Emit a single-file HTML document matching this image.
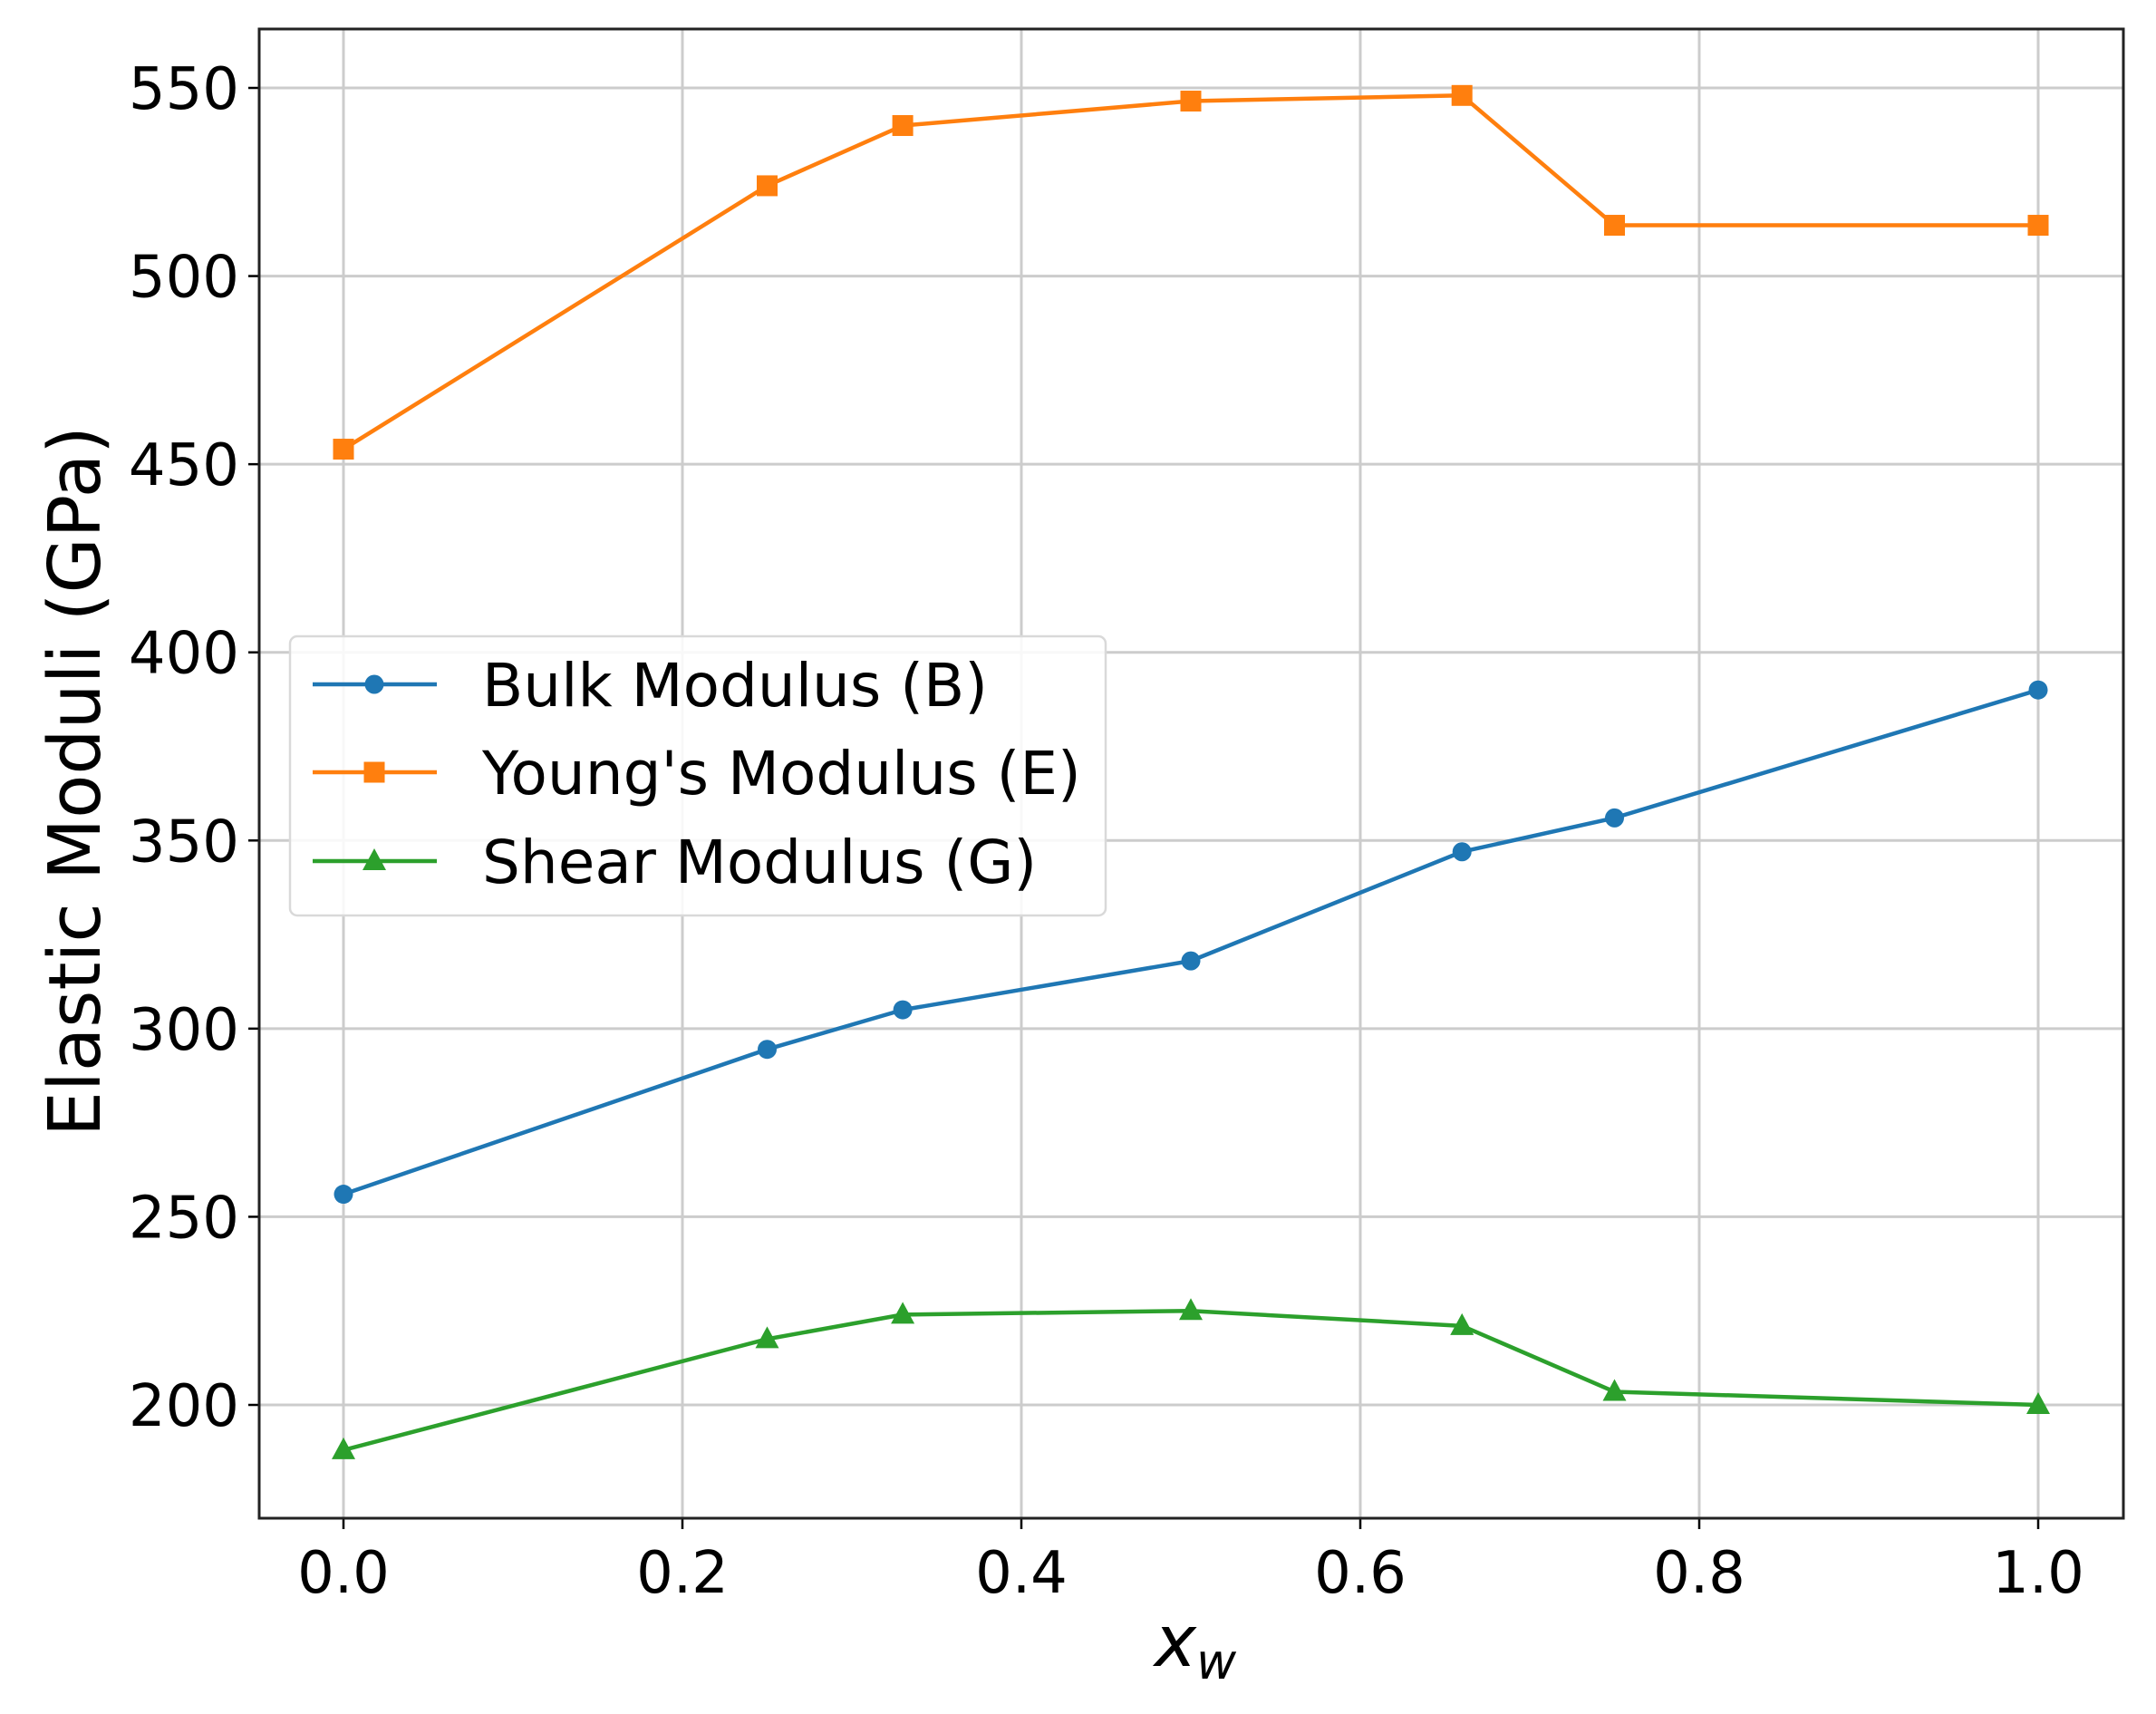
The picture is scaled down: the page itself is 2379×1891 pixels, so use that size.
<!DOCTYPE html>
<html><head><meta charset="utf-8"><style>
html,body{margin:0;padding:0;background:#fff;}
svg{display:block;font-family:"DejaVu Sans","Liberation Sans",sans-serif;}
</style></head><body>
<svg id="chart" width="2379" height="1891" viewBox="0 0 2379 1891" xmlns="http://www.w3.org/2000/svg"></svg>
<script>
const xValues = [0, 0.25, 0.33, 0.5, 0.66, 0.75, 1.0];
const bulkValues = [256, 294.5, 305, 318, 347, 356, 390];
const youngValues = [454, 524, 540, 546.5, 548, 513.5, 513.5];
const shearValues = [188, 217.5, 224, 225, 221, 203.5, 200];
const xTicks = [0, 0.2, 0.4, 0.6, 0.8, 1.0];
const xTickLabels = ["0.0", "0.2", "0.4", "0.6", "0.8", "1.0"];
const yTicks = [200, 250, 300, 350, 400, 450, 500, 550];
const yTickLabels = ["200", "250", "300", "350", "400", "450", "500", "550"];

const NS = "http://www.w3.org/2000/svg";
const svg = document.getElementById("chart");
const L = 286, R = 2343, T = 32, B = 1675;
const x0px = 379, x1px = 2249;
const y200 = 1550, y550 = 97;
function sx(v){ return x0px + (x1px - x0px) * v; }
function sy(v){ return y200 + (y550 - y200) * (v - 200) / 350; }
function mk(tag, attrs, parent){
  const e = document.createElementNS(NS, tag);
  for (const k in attrs) e.setAttribute(k, attrs[k]);
  (parent || svg).appendChild(e);
  return e;
}
const grid = mk("g", {});


xTicks.forEach((t) => {
  const l = mk("line", {x1: sx(t), x2: sx(t), y1: T, y2: B, stroke: "#cccccc", "stroke-width": 3}, grid);
  
  
});
yTicks.forEach((t) => {
  const l = mk("line", {x1: L, x2: R, y1: sy(t), y2: sy(t), stroke: "#cccccc", "stroke-width": 3}, grid);
  
  
});
xTicks.forEach((t, i) => {
  const tk = mk("line", {x1: sx(t), x2: sx(t), y1: B, y2: B + 12, stroke: "#000", "stroke-width": 2.5});
  
  
  const tx = mk("text", {x: sx(t), y: B + 82, "font-size": 64, "text-anchor": "middle", fill: "#000"});
  tx.textContent = xTickLabels[i];
  
  
});
yTicks.forEach((t, i) => {
  const tk = mk("line", {x1: L - 12, x2: L, y1: sy(t), y2: sy(t), stroke: "#000", "stroke-width": 2.5});
  
  
  const tx = mk("text", {x: L - 22, y: sy(t) + 23, "font-size": 64, "text-anchor": "end", fill: "#000"});
  tx.textContent = yTickLabels[i];
  
  
});
const frame = mk("rect", {x: L, y: T, width: R - L, height: B - T, fill: "none", stroke: "#222", "stroke-width": 3});



function marker(g, type, cx, cy, color){
  let m;
  if (type === "circle") m = mk("circle", {cx: cx, cy: cy, r: 10.5, fill: color}, g);
  else if (type === "square") m = mk("rect", {x: cx - 11.5, y: cy - 11.5, width: 23, height: 23, fill: color}, g);
  else m = mk("polygon", {points: `${cx},${cy-14} ${cx+13},${cy+10} ${cx-13},${cy+10}`, fill: color}, g);
  return m;
}
function series(vals, color, type, name){
  const g = mk("g", {});
  
  
  const pts = xValues.map((x, i) => sx(x) + "," + sy(vals[i])).join(" ");
  const pl = mk("polyline", {points: pts, fill: "none", stroke: color, "stroke-width": 4.5, "stroke-linejoin": "round"}, g);
  
  
  xValues.forEach((x, i) => {
    const m = marker(g, type, sx(x), sy(vals[i]), color);
    
    
  });
}
series(bulkValues, "#1f77b4", "circle", "bulk-modulus");
series(youngValues, "#ff7f0e", "square", "youngs-modulus");
series(shearValues, "#2ca02c", "triangle", "shear-modulus");

const lg = mk("g", {});


mk("rect", {x: 320, y: 702, width: 900, height: 308, rx: 8, fill: "#fff", "fill-opacity": 0.85, stroke: "#d9d9d9", "stroke-width": 2.5}, lg);
const entries = [["Bulk Modulus (B)", "#1f77b4", "circle", 755], ["Young's Modulus (E)", "#ff7f0e", "square", 852], ["Shear Modulus (G)", "#2ca02c", "triangle", 950]];
entries.forEach(e => {
  const eg = mk("g", {}, lg);
  
  
  mk("line", {x1: 345, x2: 482, y1: e[3], y2: e[3], stroke: e[1], "stroke-width": 4.5}, eg);
  marker(eg, e[2], 413, e[3], e[1]);
  const t = mk("text", {x: 532, y: e[3] + 24, "font-size": 66, fill: "#000"}, eg);
  t.textContent = e[0];
});

const yt = mk("text", {x: 0, y: 0, "font-size": 79, "text-anchor": "middle", fill: "#000", transform: "translate(110,862) rotate(-90)"});
yt.textContent = "Elastic Moduli (GPa)";


const xt = mk("text", {x: 1319, y: 1838, "font-size": 78, "text-anchor": "middle", "font-style": "italic", fill: "#000"});
xt.innerHTML = 'x<tspan font-size="54" dy="14">w</tspan>';


</script>
</body></html>
